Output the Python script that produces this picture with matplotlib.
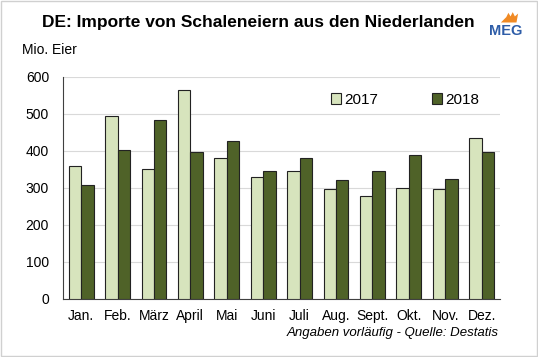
import numpy as np
import matplotlib.pyplot as plt
from matplotlib.patches import Rectangle, Polygon

plt.rcParams['font.family'] = ['Liberation Sans', 'DejaVu Sans']

monate = ['Jan.', 'Feb.', 'März', 'April', 'Mai', 'Juni', 'Juli', 'Aug.', 'Sept.', 'Okt.', 'Nov.', 'Dez.']
werte_2017 = [359, 495, 350, 565, 382, 330, 345, 297, 277, 301, 298, 435]
werte_2018 = [308, 403, 483, 397, 428, 346, 381, 322, 345, 389, 323, 396]
yticks = [0, 100, 200, 300, 400, 500, 600]

hell = '#d7e4bd'
dunkel = '#4f6228'

fig = plt.figure(figsize=(5.38, 3.57), dpi=100)
ax = fig.add_axes([0.117, 0.1625, 0.812, 0.622])

x = np.arange(len(monate))
w = 0.34
ax.bar(x - w/2, werte_2017, w, color=hell, edgecolor='#222222', linewidth=0.8, label='2017', zorder=3)
ax.bar(x + w/2, werte_2018, w, color=dunkel, edgecolor='#222222', linewidth=0.8, label='2018', zorder=3)

ax.set_ylim(0, 600)
ax.set_xlim(-0.5, len(monate) - 0.5)
ax.set_yticks(yticks)
ax.set_xticks(x)
ax.set_xticklabels(monate)
ax.tick_params(axis='y', length=0, labelsize=10, pad=10)
ax.tick_params(axis='x', length=0, labelsize=10, pad=7)
ax.yaxis.grid(True, color='#d9d9d9', linewidth=0.8, zorder=0)
for s in ['top', 'right']:
    ax.spines[s].set_visible(False)
ax.spines['left'].set_color('#404040')
ax.spines['bottom'].set_color('#404040')

ax.legend(loc='upper right', bbox_to_anchor=(0.985, 0.99), ncol=2, frameon=False,
          fontsize=11, handlelength=0.7, handleheight=0.7, handletextpad=0.2, columnspacing=3.5)

fig.text(0.078, 0.938, 'DE: Importe von Schaleneiern aus den Niederlanden',
         fontsize=12.5, fontweight='bold', va='center')
fig.text(0.041, 0.86, 'Mio. Eier', fontsize=10, va='center')
fig.text(0.926, 0.068, 'Angaben vorläufig - Quelle: Destatis', fontsize=9.5,
         style='italic', ha='right', va='center')

# Logo
fig.text(0.940, 0.912, 'MEG', fontsize=10.5, fontweight='bold', color='#2e5da8',
         ha='center', va='center')
fig.patches.append(Polygon([[0.931, 0.937], [0.941, 0.952], [0.945, 0.964], [0.949, 0.954],
                            [0.953, 0.966], [0.957, 0.954], [0.963, 0.962], [0.960, 0.937]],
                           closed=True, transform=fig.transFigure, facecolor='#f08a24',
                           edgecolor='none'))

fig.patches.append(Rectangle((0.001, 0.002), 0.997, 0.995, transform=fig.transFigure,
                             fill=False, edgecolor='#d0d0d0', linewidth=1))

plt.savefig('out.png', dpi=100)
